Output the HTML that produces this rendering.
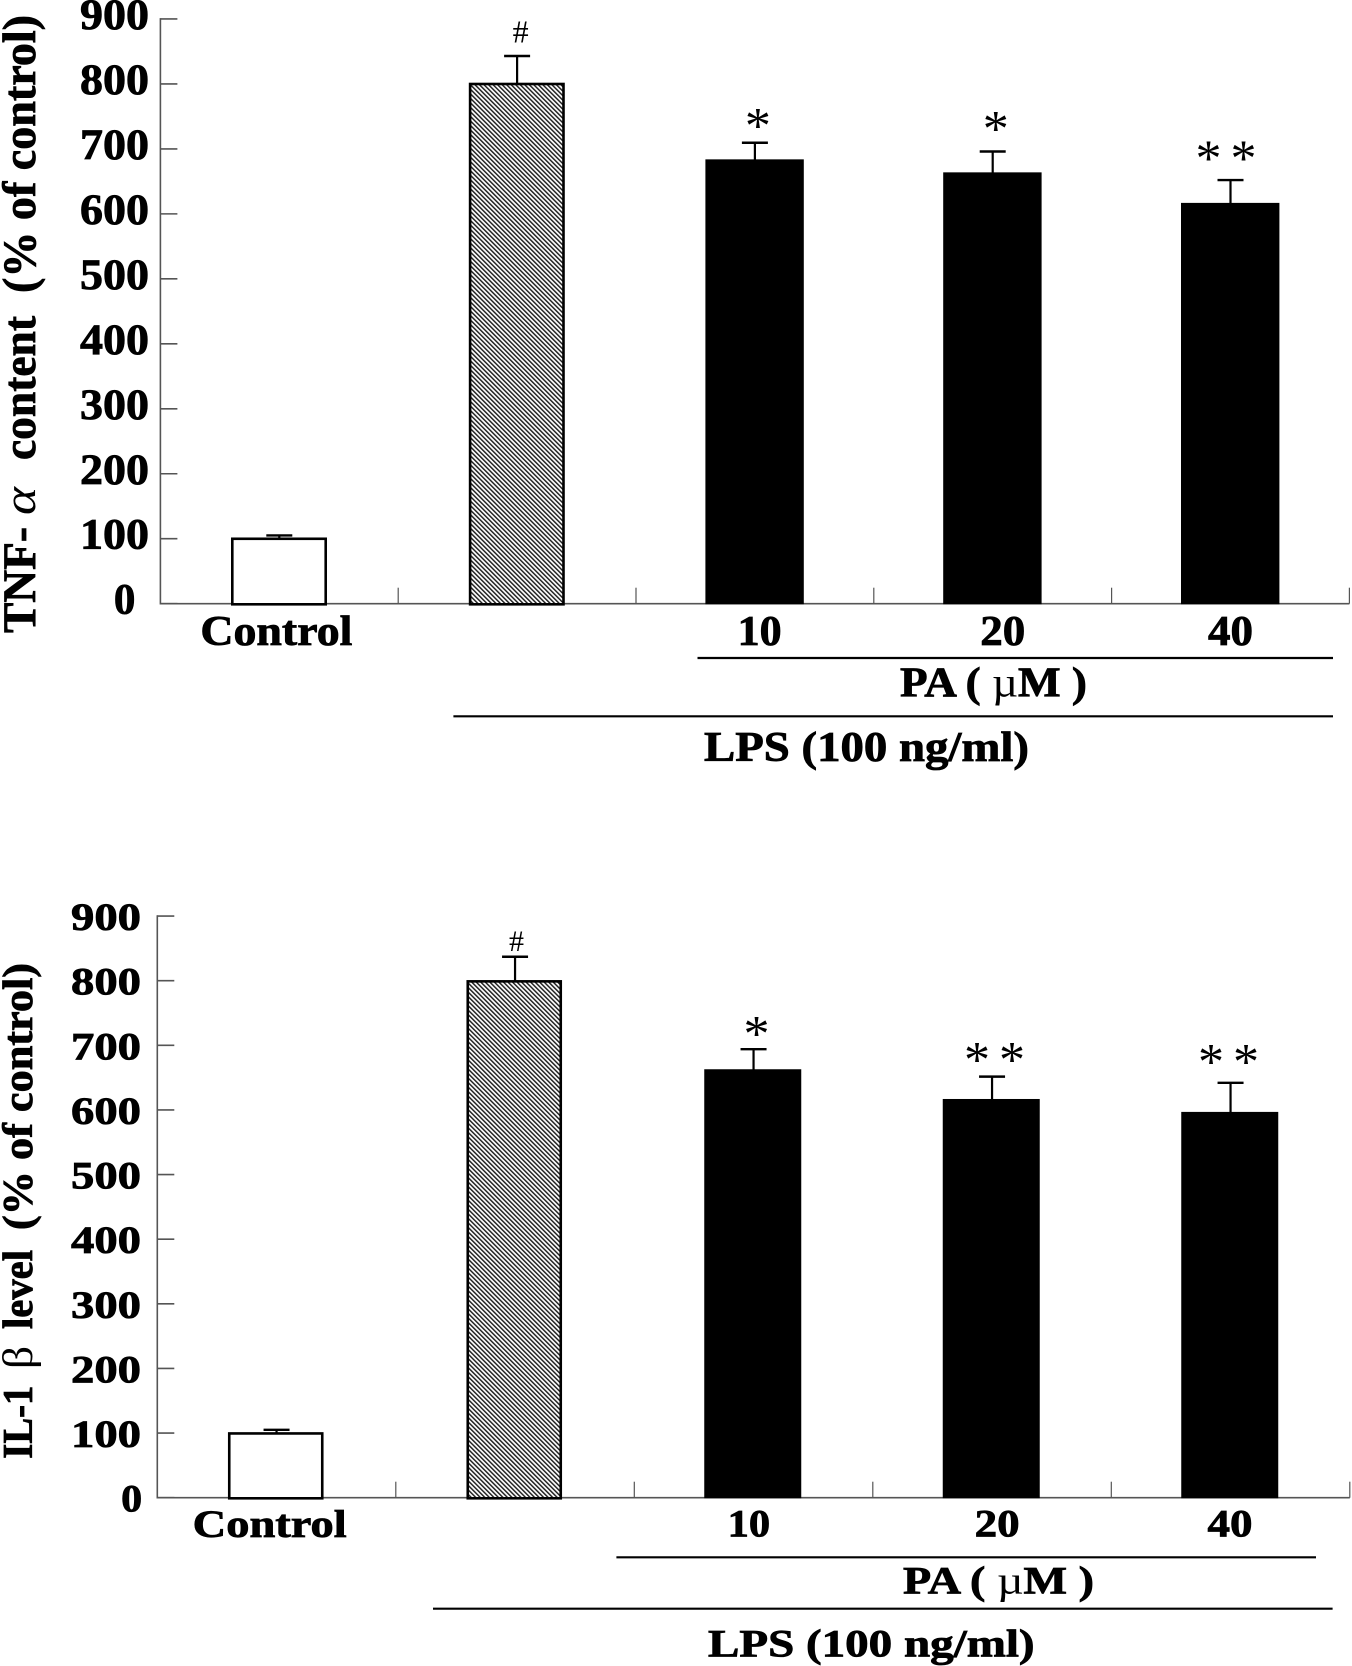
<!DOCTYPE html>
<html lang="en">
<head>
<meta charset="utf-8">
<title>TNF-α and IL-1β bar charts</title>
<style>
html,body{margin:0;padding:0;background:#fff;}
svg{display:block;}
text{font-family:"Liberation Serif",serif;font-weight:bold;fill:#000;stroke:#000;stroke-width:0.8px;}
.thin{font-weight:normal;stroke:none;}
</style>
</head>
<body>
<svg id="figure" xmlns="http://www.w3.org/2000/svg" width="1352" height="1666" viewBox="0 0 1352 1666">
<defs>
<pattern id="hatch" width="3.2" height="3.2" patternUnits="userSpaceOnUse" patternTransform="rotate(-45)">
<rect width="3.2" height="3.2" fill="#fff"/>
<rect x="0" y="0" width="1.5" height="3.2" fill="#222"/>
</pattern>
</defs>
<rect width="1352" height="1666" fill="#fff"/>

<g id="chart-tnf">
<text transform="translate(35,633) rotate(-90)" font-size="47" textLength="106" lengthAdjust="spacingAndGlyphs">TNF-</text>
<text transform="translate(35,515) rotate(-90)" font-size="46" class="thin" font-style="italic" textLength="28" lengthAdjust="spacingAndGlyphs">α</text>
<text transform="translate(35,460) rotate(-90)" font-size="47" textLength="144" lengthAdjust="spacingAndGlyphs">content</text>
<text transform="translate(35,293) rotate(-90)" font-size="47" textLength="278" lengthAdjust="spacingAndGlyphs">(% of control)</text>
<text x="200.4" y="645" font-size="42" textLength="152" lengthAdjust="spacingAndGlyphs">Control</text>
<text x="737.6" y="645" font-size="42" textLength="44" lengthAdjust="spacingAndGlyphs">10</text>
<text x="980.3" y="645" font-size="42" textLength="45" lengthAdjust="spacingAndGlyphs">20</text>
<text x="1208" y="645" font-size="42" textLength="45" lengthAdjust="spacingAndGlyphs">40</text>
<line x1="697.5" x2="1333" y1="658" y2="658" stroke="#000" stroke-width="2.2"/>
<text x="900" y="696.7" font-size="42" textLength="187" lengthAdjust="spacingAndGlyphs">PA ( <tspan class="thin">µ</tspan>M )</text>
<line x1="453.4" x2="1333" y1="716.3" y2="716.3" stroke="#000" stroke-width="2.2"/>
<text x="704" y="761" font-size="42" textLength="325" lengthAdjust="spacingAndGlyphs">LPS (100 ng/ml)</text>
</g>

<g id="chart-il">
<text transform="translate(32,1458.7) rotate(-90)" font-size="42" textLength="73" lengthAdjust="spacingAndGlyphs">IL-1</text>
<text transform="translate(32,1369) rotate(-90)" font-size="42" class="thin" textLength="23" lengthAdjust="spacingAndGlyphs">β</text>
<text transform="translate(32,1329) rotate(-90)" font-size="42" textLength="79" lengthAdjust="spacingAndGlyphs">level</text>
<text transform="translate(32,1230) rotate(-90)" font-size="42" textLength="267" lengthAdjust="spacingAndGlyphs">(% of control)</text>
<text x="192.7" y="1537" font-size="39" textLength="154" lengthAdjust="spacingAndGlyphs">Control</text>
<text x="727.7" y="1536.7" font-size="39" textLength="42.5" lengthAdjust="spacingAndGlyphs">10</text>
<text x="974.7" y="1536.7" font-size="39" textLength="45" lengthAdjust="spacingAndGlyphs">20</text>
<text x="1207.5" y="1536.7" font-size="39" textLength="45" lengthAdjust="spacingAndGlyphs">40</text>
<line x1="616.4" x2="1316" y1="1557.3" y2="1557.3" stroke="#000" stroke-width="2.2"/>
<text x="903" y="1593.7" font-size="39" textLength="191" lengthAdjust="spacingAndGlyphs">PA ( <tspan class="thin">µ</tspan>M )</text>
<line x1="433" x2="1332.6" y1="1608.7" y2="1608.7" stroke="#000" stroke-width="2.2"/>
<text x="708" y="1656.7" font-size="39" textLength="326.6" lengthAdjust="spacingAndGlyphs">LPS (100 ng/ml)</text>
</g>
</svg>

<script>
const yTickValues = [0, 100, 200, 300, 400, 500, 600, 700, 800, 900];
const groupNames = ['control', 'lps', 'pa-10', 'pa-20', 'pa-40'];
const tnfMeans = [101, 801, 683, 663, 616];
const tnfErrorTops = [105, 843, 709.5, 696, 652];
const tnfMarks = ['', '#', '*', '*', '**'];
const tnfMarkLevels = [0, 880, 743, 738, 693];
const ilMeans = [100.5, 800, 662, 616, 596];
const ilErrorTops = [105, 837, 694, 651.5, 642];
const ilMarks = ['', '#', '*', '**', '**'];
const ilMarkLevels = [0, 862, 725, 685, 682];

const NS = 'http://www.w3.org/2000/svg';

function make(parent, tag, attrs) {
  const el = document.createElementNS(NS, tag);
  for (const k in attrs) el.setAttribute(k, attrs[k]);
  parent.appendChild(el);
  return el;
}

function drawChart(cfg, means, errorTops, marks, markLevels) {
  const root = document.getElementById(cfg.id);
  const yScale = function (v) { return cfg.y0 - v * cfg.pxPerUnit; };
  const xBand = function (i) { return cfg.x0 + cfg.step * (i + 0.5); };
  const axisColor = '#555';
  const xEnd = cfg.x0 + cfg.step * groupNames.length;

  const yAxis = make(root, 'line', { x1: cfg.x0, x2: cfg.x0, y1: yScale(900) - 0.8, y2: cfg.y0 + 0.8, stroke: axisColor, 'stroke-width': 1.6 });
  
  
  const xAxis = make(root, 'line', { x1: cfg.x0, x2: xEnd, y1: cfg.y0, y2: cfg.y0, stroke: axisColor, 'stroke-width': 1.6 });
  
  

  yTickValues.forEach(function (v) {
    const tick = make(root, 'line', { x1: cfg.x0, x2: cfg.x0 + 17, y1: yScale(v), y2: yScale(v), stroke: axisColor, 'stroke-width': 1.6 });
    
    
    const label = String(v);
    const w = label.length === 1 ? cfg.zeroWidth : cfg.labelWidth;
    const lx = label.length === 1 ? cfg.zeroX - w / 2 : cfg.labelRight - w;
    const t = make(root, 'text', { x: lx, y: yScale(v) + cfg.labelDrop, 'font-size': cfg.fontSize, textLength: w, lengthAdjust: 'spacingAndGlyphs' });
    t.textContent = label;
    
    
  });

  groupNames.forEach(function (name, i) {
    const tx = cfg.x0 + cfg.step * (i + 1);
    const tick = make(root, 'line', { x1: tx, x2: tx, y1: cfg.y0, y2: cfg.y0 - 16, stroke: axisColor, 'stroke-width': 1.2 });
    
    
  });

  means.forEach(function (v, i) {
    const name = groupNames[i];
    const cx = xBand(i);
    const top = yScale(v);
    const capY = yScale(errorTops[i]);

    const stem = make(root, 'line', { x1: cx, x2: cx, y1: top, y2: capY, stroke: '#000', 'stroke-width': 2.2 });
    
    
    const cap = make(root, 'line', { x1: cx - 13, x2: cx + 13, y1: capY, y2: capY, stroke: '#000', 'stroke-width': 2.4 });
    
    

    const outlined = i < 2;
    const fill = i === 0 ? '#fff' : i === 1 ? 'url(#hatch)' : '#000';
    const sw = outlined ? 2.6 : 0;
    const outer = outlined ? cfg.barWidth : cfg.solidWidth;
    const bar = make(root, 'rect', { x: cx + cfg.barShift - outer / 2 + sw / 2, y: top + sw / 2 - 0.6, width: outer - sw, height: cfg.y0 - top + 1.2 - sw / 2, fill: fill, stroke: outlined ? '#000' : 'none', 'stroke-width': sw });
    
    

    const mark = marks[i];
    if (mark === '#') {
      const t = make(root, 'text', { x: cx + cfg.hashShift, y: yScale(markLevels[i]) + 10.5, 'font-size': cfg.hashSize, 'text-anchor': 'middle', class: 'thin' });
      t.textContent = '#';
      
      
    } else if (mark === '*') {
      const t = make(root, 'text', { x: cx + 3, y: yScale(markLevels[i]) + cfg.starDrop, 'font-size': cfg.starSize, 'text-anchor': 'middle', class: 'thin' });
      t.textContent = '*';
      
      
    } else if (mark === '**') {
      [-1, 1].forEach(function (side) {
        const t = make(root, 'text', { x: cx + cfg.pairShift[name] + side * 17.5, y: yScale(markLevels[i]) + cfg.starDrop, 'font-size': cfg.starSize, 'text-anchor': 'middle', class: 'thin' });
        t.textContent = '*';
        
        
      });
    }
  });
}

drawChart({ id: 'chart-tnf', x0: 160.4, step: 237.8, y0: 603.7, pxPerUnit: 0.6497, barWidth: 96, solidWidth: 98.4, barShift: -0.3,
  labelRight: 149, labelWidth: 69, zeroX: 124.6, zeroWidth: 21.5, labelDrop: 10, fontSize: 43,
  hashShift: 3.5, hashSize: 32, starSize: 52, starDrop: 22, pairShift: { 'pa-40': -4.5 } },
  tnfMeans, tnfErrorTops, tnfMarks, tnfMarkLevels);

drawChart({ id: 'chart-il', x0: 157.3, step: 238.5, y0: 1497.7, pxPerUnit: 0.6463, barWidth: 95.6, solidWidth: 97, barShift: -0.8,
  labelRight: 141, labelWidth: 70, zeroX: 131.7, zeroWidth: 21, labelDrop: 14, fontSize: 39,
  hashShift: 1.4, hashSize: 30, starSize: 52, starDrop: 22, pairShift: { 'pa-20': 2.5, 'pa-40': -2 } },
  ilMeans, ilErrorTops, ilMarks, ilMarkLevels);
</script>
</body>
</html>
